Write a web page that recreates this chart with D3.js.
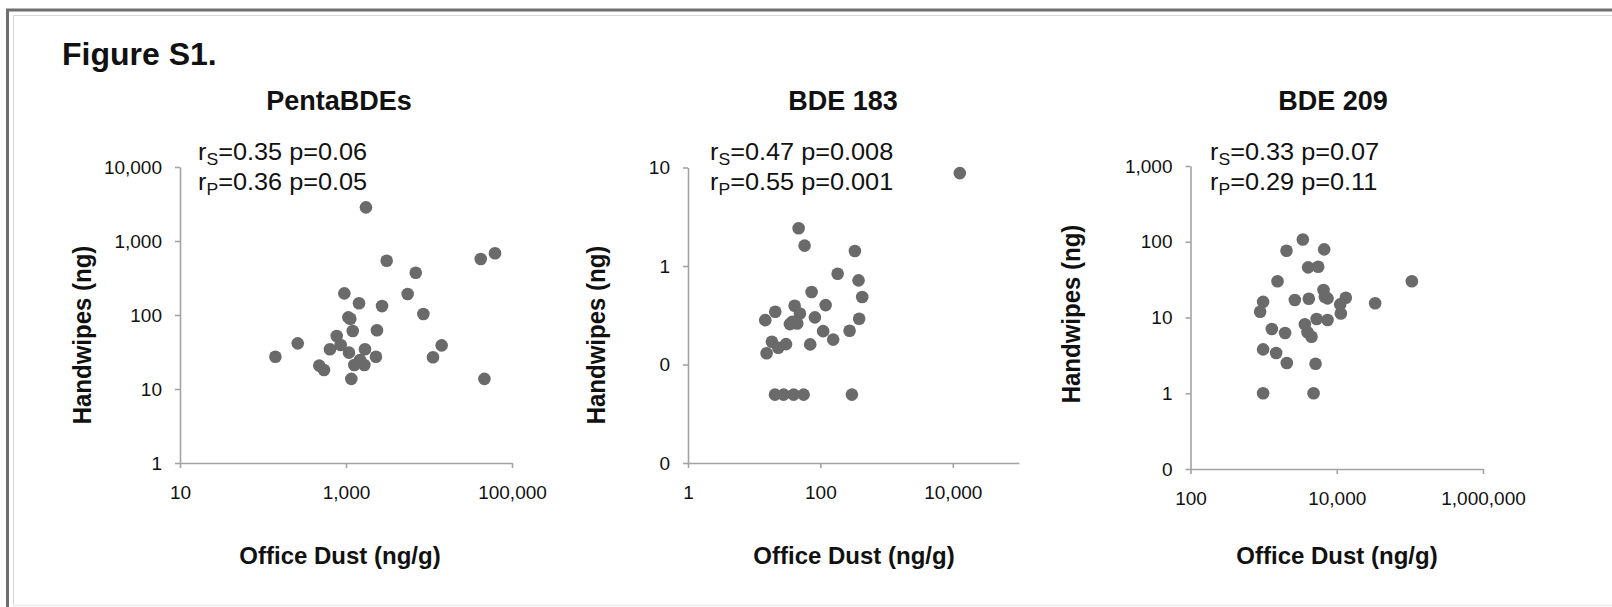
<!DOCTYPE html>
<html>
<head>
<meta charset="utf-8">
<script src="https://cdn.jsdelivr.net/npm/d3@7/dist/d3.min.js"></script>
<style>
  body { margin: 0; background: #fff; }
  svg { display: block; font-family: "Liberation Sans", Arial, Helvetica, sans-serif; }
</style>
</head>
<body>
<div class="figure-container"></div>
<script>
// Data
const panelTitles = ['PentaBDEs', 'BDE 183', 'BDE 209'];
const spearmanText = ['=0.35 p=0.06', '=0.47 p=0.008', '=0.33 p=0.07'];
const pearsonText = ['=0.36 p=0.05', '=0.55 p=0.001', '=0.29 p=0.11'];

// PentaBDEs: office dust (ng/g) vs handwipes (ng)
const pentaDust = [1740, 3090, 6920, 5530, 8550, 41980, 62400, 46500, 14200, 11170, 955, 1435, 2717, 1067, 1127, 1205,
    2360, 773, 863, 262, 141, 641, 1086, 1694, 2296, 1475, 1259, 1663, 476, 543, 1159];
const pentaWipes = [2850, 542, 373, 192, 103, 571, 682, 13.7, 38.9, 26.8, 196, 144, 132, 93, 89, 60.8,
    62.1, 52, 39.3, 41.4, 27.3, 34.4, 31, 34.4, 27.3, 24.7, 21.1, 21.1, 20.7, 18.1, 13.7];
const pentaXTicks = [10, 1000, 100000];
const pentaXLabels = ['10', '1,000', '100,000'];
const pentaYTicks = [1, 10, 100, 1000, 10000];
const pentaYLabels = ['1', '10', '100', '1,000', '10,000'];

// BDE 183
const bde183Dust = [12760, 46.9, 57.7, 332, 182, 377, 428, 73.6, 120, 40.8, 20.8, 49.0, 82.6, 385, 14.7, 37.5,
    44.7, 34.6, 110, 276, 156, 18.5, 30.2, 23.1, 70.2, 15.4, 20.6, 27.8, 39.4, 55.8, 299];
const bde183Wipes = [8.77, 2.42, 1.61, 1.42, 0.835, 0.715, 0.484, 0.544, 0.401, 0.395, 0.343, 0.330, 0.301, 0.291, 0.282, 0.271,
    0.261, 0.257, 0.218, 0.220, 0.179, 0.170, 0.161, 0.148, 0.160, 0.130, 0.0495, 0.0495, 0.0495, 0.0495, 0.0495];
const bde183XTicks = [1, 100, 10000];
const bde183XLabels = ['1', '100', '10,000'];
const bde183YTicks = [0.01, 0.1, 1, 10];
const bde183YLabels = ['0', '0', '1', '10'];

// BDE 209
const bde209Dust = [3436, 2056, 6730, 4064, 5573, 1549, 106400, 6590, 6870, 7480, 4150, 2672, 13300, 11140, 33500, 984,
    896, 11380, 5300, 7480, 3664, 1294, 1967, 3981, 4519, 984, 1483, 2075, 5130, 984, 4820];
const bde209Wipes = [107, 76, 79.4, 45.9, 46.8, 30.1, 30.1, 23.1, 18.8, 17.9, 17.7, 17.0, 18.2, 14.9, 15.4, 16.1,
    11.9, 11.3, 9.55, 9.27, 8.13, 7.05, 6.25, 6.38, 5.58, 3.8, 3.4, 2.51, 2.45, 1.0, 1.0];
const bde209XTicks = [100, 10000, 1000000];
const bde209XLabels = ['100', '10,000', '1,000,000'];
const bde209YTicks = [0.1, 1, 10, 100, 1000];
const bde209YLabels = ['0', '1', '10', '100', '1,000'];

// Layout of the three panels (pixel boxes)
const panels = [
    { x: pentaDust, y: pentaWipes, xDomain: [10, 100000], yDomain: [1, 10000],
      xRange: [180, 512], yRange: [463, 167],
      xTicks: pentaXTicks, xLabels: pentaXLabels, yTicks: pentaYTicks, yLabels: pentaYLabels,
      titleX: 339, statX: 198, yLabelX: 91, yLabelY: 335, xLabelX: 340 },
    { x: bde183Dust, y: bde183Wipes, xDomain: [1, 100000], yDomain: [0.01, 10],
      xRange: [688, 1019], yRange: [463, 167.5],
      xTicks: bde183XTicks, xLabels: bde183XLabels, yTicks: bde183YTicks, yLabels: bde183YLabels,
      titleX: 843, statX: 710, yLabelX: 605, yLabelY: 335, xLabelX: 854 },
    { x: bde209Dust, y: bde209Wipes, xDomain: [100, 1000000], yDomain: [0.1, 1000],
      xRange: [1190.5, 1483], yRange: [469, 166],
      xTicks: bde209XTicks, xLabels: bde209XLabels, yTicks: bde209YTicks, yLabels: bde209YLabels,
      titleX: 1333, statX: 1210, yLabelX: 1080, yLabelY: 314, xLabelX: 1337 }
];

const svg_width = 1612;
const svg_height = 607;
const axisColor = '#a3a3a3';
const dotColor = '#6a6a6a';

const svg = d3.select('.figure-container').append('svg')
    .attr('width', svg_width).attr('height', svg_height);

// Frame round the figure (open on the right / bottom like the scan)
svg.append('path').attr('d', `M7.5,${svg_height} V10 H${svg_width}`)
    .attr('fill', 'none').attr('stroke', '#6f6f6f').attr('stroke-width', 3);
svg.append('path').attr('d', `M13.5,605.5 V15.5 H${svg_width}`)
    .attr('fill', 'none').attr('stroke', '#d6d6d6').attr('stroke-width', 1);
svg.append('line').attr('x1', 13).attr('x2', svg_width).attr('y1', 605.5).attr('y2', 605.5)
    .attr('stroke', '#ececec').attr('stroke-width', 1.5);

svg.append('text').text('Figure S1.')
    .attr('x', 62).attr('y', 65)
    .style('font-size', '32px').style('font-weight', 'bold').style('fill', '#111');

function drawPanel(p, i) {
    const xScale = d3.scaleLog().domain(p.xDomain).range(p.xRange);
    const yScale = d3.scaleLog().domain(p.yDomain).range(p.yRange);
    const g = svg.append('g').attr('class', 'panel');

    // axes
    const xAxis = d3.axisBottom(xScale).tickValues(p.xTicks)
        .tickFormat((d, k) => p.xLabels[k])
        .tickSizeInner(5).tickSizeOuter(0).tickPadding(18);
    const xAxisDraw = g.append('g').attr('class', 'x axis')
        .attr('transform', `translate(0,${p.yRange[0]})`)
        .call(xAxis);

    const yAxis = d3.axisLeft(yScale).tickValues(p.yTicks)
        .tickFormat((d, k) => p.yLabels[k])
        .tickSizeInner(5).tickSizeOuter(0).tickPadding(13);
    const yAxisDraw = g.append('g').attr('class', 'y axis')
        .attr('transform', `translate(${p.xRange[0]},0)`)
        .call(yAxis);

    [xAxisDraw, yAxisDraw].forEach(a => {
        a.select('.domain').attr('stroke', axisColor).attr('stroke-width', 1.6);
        a.selectAll('.tick line').attr('stroke', axisColor).attr('stroke-width', 1.6);
        a.selectAll('.tick text').style('font-size', '19px').style('fill', '#111')
            .style('font-family', '"Liberation Sans", Arial, sans-serif');
    });

    // points
    g.selectAll('.dot').data(p.x.map((d, k) => ({ dust: d, wipes: p.y[k] }))).enter()
        .append('circle').attr('class', 'dot')
        .attr('cx', d => xScale(d.dust))
        .attr('cy', d => yScale(d.wipes))
        .attr('r', 6.3)
        .style('fill', dotColor);

    // title
    g.append('text').text(panelTitles[i])
        .attr('x', p.titleX).attr('y', 110)
        .style('text-anchor', 'middle')
        .style('font-size', '27px').style('font-weight', 'bold').style('fill', '#111');

    // correlation text (slightly wide in the original)
    const stats = g.append('g').attr('transform', `translate(${p.statX},0) scale(1.1,1)`);
    [[spearmanText[i], 'S', 160], [pearsonText[i], 'P', 190]].forEach(([txt, sub, y]) => {
        const t = stats.append('text').attr('x', 0).attr('y', y)
            .style('font-size', '23px').style('fill', '#111');
        t.append('tspan').text('r');
        t.append('tspan').text(sub).attr('dy', 5).style('font-size', '16px');
        t.append('tspan').text(txt).attr('dy', -5);
    });

    // axis labels
    g.append('text').text('Handwipes (ng)')
        .attr('transform', `translate(${p.yLabelX},${p.yLabelY}) scale(1.1,1) rotate(-90)`)
        .style('text-anchor', 'middle')
        .style('font-size', '24px').style('font-weight', 'bold').style('fill', '#111');

    g.append('text').text('Office Dust (ng/g)')
        .attr('x', p.xLabelX).attr('y', 564)
        .style('text-anchor', 'middle')
        .style('font-size', '24px').style('font-weight', 'bold').style('fill', '#111');
}

panels.forEach(drawPanel);
</script>
</body>
</html>
